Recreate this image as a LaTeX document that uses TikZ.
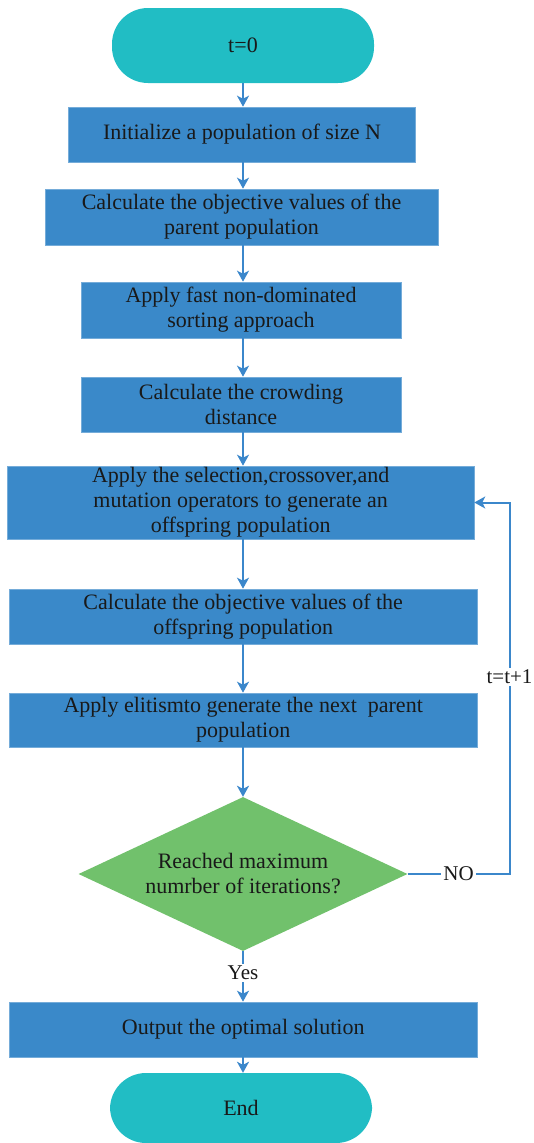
\documentclass[tikz,border=0pt]{standalone}
\usepackage{fontspec}
\setmainfont{Liberation Serif}
\usetikzlibrary{shapes.geometric,arrows.meta}
\definecolor{boxblue}{RGB}{58,137,201}
\definecolor{termteal}{RGB}{33,189,196}
\definecolor{decgreen}{RGB}{113,193,108}
\definecolor{linkblue}{RGB}{59,135,203}
\definecolor{txt}{RGB}{25,25,25}
\tikzset{
  procbox/.style={rectangle, fill=boxblue, draw=boxblue!70!white, line width=0.6pt, inner sep=0pt, align=center, text=txt,
    font=\fontsize{22}{25}\selectfont},
  termbox/.style={rectangle, rounded corners=36pt, fill=termteal, inner sep=0pt, text=txt,
    font=\fontsize{22}{25}\selectfont},
  decbox/.style={diamond, fill=decgreen, inner sep=0pt},
  dectext/.style={align=center, text=txt, font=\fontsize{22}{25}\selectfont},
  arr/.style={draw=linkblue, line width=2pt, -{Stealth[length=11pt,width=12pt,inset=3pt]}},
  lab/.style={fill=white, text=txt, inner sep=2pt, font=\fontsize{21}{24}\selectfont}
}
\begin{document}
\begin{tikzpicture}[x=1pt,y=-1pt]
\useasboundingbox (0,0) rectangle (533,1143);
\node[termbox, minimum width=262pt, minimum height=75pt] (start) at (243,45.5) {t=0};
\node[procbox, minimum width=347pt, minimum height=55pt] (b1) at (242,134.5) {Initialize a population of size N};
\node[procbox, minimum width=393pt, minimum height=56pt] (b2) at (241.5,217) {Calculate the objective values of the\\parent population};
\node[procbox, minimum width=320pt, minimum height=56pt] (b3) at (241,310) {Apply fast non-dominated\\sorting approach};
\node[procbox, minimum width=320pt, minimum height=55pt] (b4) at (241,404.5) {Calculate the crowding\\distance};
\node[procbox, minimum width=466.5pt, minimum height=73pt] (b5) at (240.7,502.5) {Apply the selection,crossover,and\\mutation operators to generate an\\offspring population};
\node[procbox, minimum width=467.5pt, minimum height=55pt] (b6) at (243.2,616.5) {Calculate the objective values of the\\offspring population};
\node[procbox, minimum width=467.5pt, minimum height=54pt] (b7) at (243.2,720) {Apply elitismto generate the next\ \ parent\\population};
\node[decbox, minimum width=329pt, minimum height=154pt] (dec) at (243,874) {};
\node[dectext] (dect) at (dec.center) {Reached maximum\\numrber of iterations?};
\node[procbox, minimum width=467.5pt, minimum height=55pt] (b8) at (243.2,1029.5) {Output the optimal solution};
\node[termbox, minimum width=262pt, minimum height=70pt] (end) at (241,1108) {End};
\coordinate (fb) at (509.5,874);
\draw[arr] (start.south -| 243,0) -- (b1.north -| 243,0);
\draw[arr] (b1.south -| 243,0) -- (b2.north -| 243,0);
\draw[arr] (b2.south -| 243,0) -- (b3.north -| 243,0);
\draw[arr] (b3.south -| 243,0) -- (b4.north -| 243,0);
\draw[arr] (b4.south -| 243,0) -- (b5.north -| 243,0);
\draw[arr] (b5.south -| 243,0) -- (b6.north -| 243,0);
\draw[arr] (b6.south -| 243,0) -- (b7.north -| 243,0);
\draw[arr] (b7.south -| 243,0) -- (dec.north);
\draw[arr] (dec.south) -- node[lab, pos=0.43]{Yes} (b8.north -| dec.south);
\draw[arr] (b8.south -| 243,0) -- (end.north -| 243,0);
\draw[arr] (dec.east) -- node[lab]{NO} (fb) -- node[lab, pos=0.53]{t=t+1} (fb |- b5.east) -- (b5.east);
\end{tikzpicture}
\end{document}
